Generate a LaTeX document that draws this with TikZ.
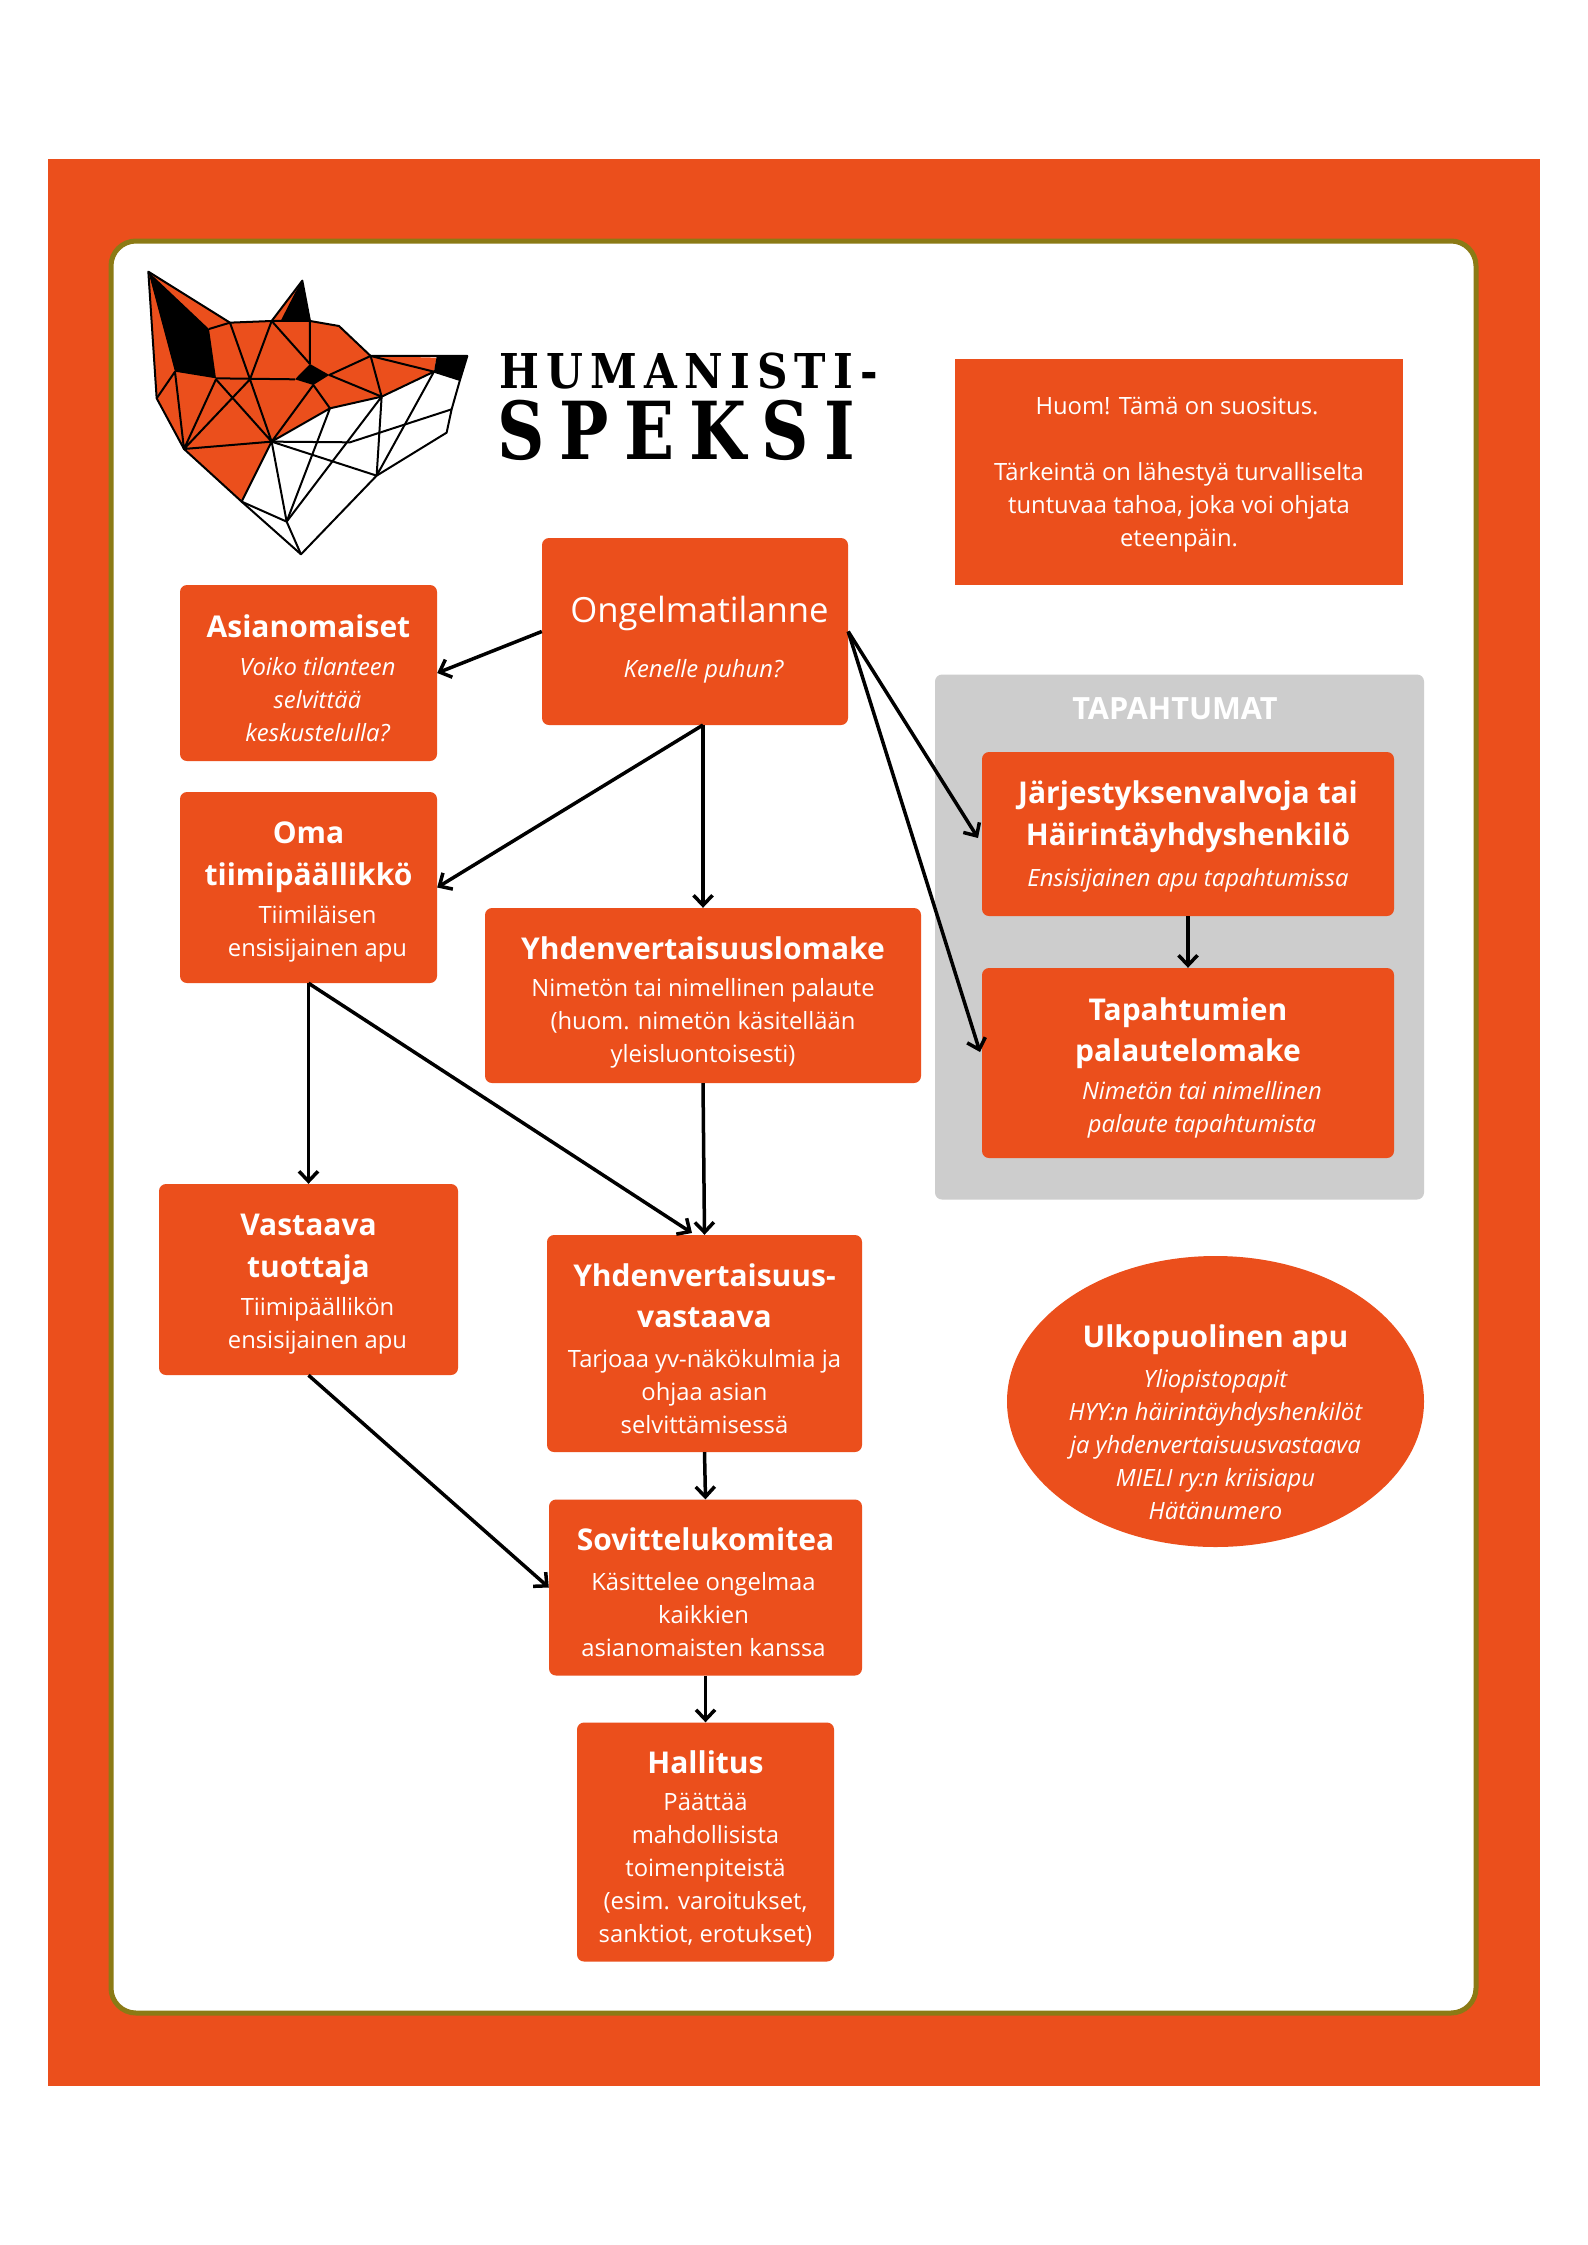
\documentclass[tikz,border=0pt]{standalone}
\usepackage{fontspec}
\setmainfont{Open Sans}
\newfontfamily\logosmall[LetterSpace=15,FakeStretch=0.88]{DejaVu Serif Bold}
\newfontfamily\logobig[LetterSpace=19,FakeStretch=0.82]{DejaVu Serif Bold}
\usepackage{xcolor}
\usepackage{tikz}
\usetikzlibrary{arrows.meta,positioning,shapes.geometric}

\definecolor{speksi}{HTML}{EB4F1C}
\definecolor{rim}{HTML}{8B7A15}
\definecolor{panel}{HTML}{CDCDCD}

\newcommand{\headf}{\fontsize{30}{41.5}\selectfont\bfseries}
\newcommand{\subf}{\fontsize{23.8}{33}\selectfont\mdseries}
\newcommand{\subi}{\subf\itshape}
\newcommand{\off}[1]{\hspace*{#1}}
\newcommand{\down}[1]{\rule{0pt}{#1}}

\begin{document}
\begin{tikzpicture}[x=1pt,y=-1pt,
box/.style={
    rectangle, rounded corners=7pt,
    fill=speksi, text=white,
    align=center,
    inner sep=0pt,
    font=\subf
},
oval/.style={
    ellipse, fill=speksi, text=white,
    align=center,
    inner xsep=-30pt, inner ysep=-40pt,
    font=\subf
},
arr/.style={-{Straight Barb[length=10pt,width=19pt,line width=3.5pt]}, line width=3.5pt},
fox/.style={line width=2pt, line join=round}
]
\useasboundingbox (0,0) rectangle (1587,2245);

% frame
\fill[speksi] (48,159) rectangle (1540,2086);
\draw[rim, fill=white, line width=5pt, rounded corners=25pt] (111,241) rectangle (1476,2013);

% fox, in crop pixels
\begin{scope}[shift={(130,250)},x=0.3333pt,y=-0.3333pt]
\fill[speksi] (162,597) -- (80,445) -- (55,65) -- (300,218) -- (425,213) -- (517,92) -- (540,213)
    -- (627,228) -- (722,318) -- (920,323) -- (912,365) -- (755,440) -- (600,475) -- (425,575) -- (335,755) -- cycle;
\fill (55,65) -- (237,237) -- (258,385) -- (135,365) -- cycle;
\fill (517,92) -- (540,213) -- (452,213) -- (497,125) -- cycle;
\fill (495,388) -- (540,342) -- (598,375) -- (550,405) -- cycle;
\fill (920,320) -- (1012,318) -- (990,390) -- (912,365) -- cycle;
\draw[fox] (55,65) -- (300,218) -- (425,213) -- (540,213) -- (627,228) -- (722,318) -- (1012,318) -- (990,390)
    -- (965,478) -- (950,548) -- (740,677) -- (513,913) -- (335,755) -- (162,597) -- (80,445) -- cycle;
\draw[fox] (425,213) -- (517,92) -- (540,213) -- (540,342);
\draw[fox] (237,237) -- (300,218) -- (360,388) -- (425,213) -- (540,342);
\draw[fox] (258,385) -- (495,388);
\draw[fox] (80,445) -- (135,365) -- (162,597) -- (258,388) -- (425,575) -- (360,388) -- (162,597) -- (425,575) -- (335,755) -- (470,815) -- (513,913);
\draw[fox] (425,575) -- (550,405) -- (600,475) -- (425,575) -- (470,815) -- (600,475) -- (755,440) -- (912,365) -- (990,390);
\draw[fox] (722,318) -- (912,365);
\draw[fox] (722,318) -- (598,375) -- (755,440) -- (722,318);
\draw[fox] (470,815) -- (755,440) -- (740,677) -- (912,365);
\draw[fox] (425,575) -- (660,577) -- (965,478);
\draw[fox] (425,575) -- (740,677);
\end{scope}

% logo text
\node[anchor=base west, inner sep=0pt, font=\logosmall\fontsize{48}{48}\selectfont] (logoa) at (499,388) {HUMANISTI-};
\node[anchor=base west, inner sep=0pt, font=\logobig\fontsize{80}{80}\selectfont] (logob) at (497,459) {SPEKSI};

% panel
\node[box, fill=panel, minimum width=489pt, minimum height=525pt] (tapahtumat) at (1179.5,937) {};
\node[font=\fontsize{30.6}{35}\selectfont\bfseries, text=white, inner sep=0pt] (paneltitle) at (1175,709) {TAPAHTUMAT};

\node[box, rounded corners=0pt, minimum width=448pt, minimum height=226pt] (huom) at (1179,472) {\down{22pt}\off{-4pt}Huom! Tämä on suositus.\\[33pt]Tärkeintä on lähestyä turvalliselta\\tuntuvaa tahoa, joka voi ohjata\\eteenpäin.};
\node[box, minimum width=306pt, minimum height=187pt] (ongel) at (695,631.5) {\down{43pt}\fontsize{34.7}{45}\selectfont\off{9pt}Ongelmatilanne\\[22.6pt]\subi\off{17pt}Kenelle puhun?};
\node[box, minimum width=257pt, minimum height=176pt] (asian) at (308.5,673) {\headf\down{34pt}Asianomaiset\\[5pt]\subi\off{18pt}Voiko tilanteen\\\subi\off{18pt}selvittää\\\subi\off{18pt}keskustelulla?};
\node[box, minimum width=257pt, minimum height=191pt] (oma) at (308.5,887.5) {\headf\down{31pt}Oma\\[8.5pt]\headf tiimipäällikkö\\[5pt]\subf\off{18pt}Tiimiläisen\\\subf\off{18pt}ensisijainen apu};
\node[box, minimum width=436pt, minimum height=175pt] (lomake) at (703,995.5) {\headf\down{37pt}Yhdenvertaisuuslomake\\[4pt]\subf Nimetön tai nimellinen palaute\\\subf (huom. nimetön käsitellään\\\subf yleisluontoisesti)};
\node[box, minimum width=299pt, minimum height=191pt] (vastaava) at (308.5,1279.5) {\headf\down{31pt}Vastaava\\[8.5pt]\headf tuottaja\\[5pt]\subf\off{18pt}Tiimipäällikön\\\subf\off{18pt}ensisijainen apu};
\node[box, minimum width=315pt, minimum height=217pt] (yhdvast) at (704.5,1343.5) {\headf\down{33pt}Yhdenvertaisuus-\\[8.5pt]\headf vastaava\\[7pt]\subf Tarjoaa yv-näkökulmia ja\\\subf ohjaa asian\\\subf selvittämisessä};
\node[box, minimum width=313pt, minimum height=176pt] (sovittelu) at (705.5,1587.5) {\headf\down{32pt}Sovittelukomitea\\[7pt]\subf\off{-4pt}Käsittelee ongelmaa\\\subf\off{-4pt}kaikkien\\\subf\off{-4pt}asianomaisten kanssa};
\node[box, minimum width=257pt, minimum height=239pt] (hallitus) at (705.5,1842) {\headf\down{36pt}Hallitus\\[4.3pt]\subf Päättää\\\subf mahdollisista\\\subf toimenpiteistä\\\subf (esim. varoitukset,\\\subf sanktiot, erotukset)};
\node[box, minimum width=412pt, minimum height=164pt] (jarjestys) at (1188,834) {\headf\down{28pt}Järjestyksenvalvoja tai\\[8.5pt]\headf Häirintäyhdyshenkilö\\[8.3pt]\subi Ensisijainen apu tapahtumissa};
\node[box, minimum width=412pt, minimum height=190pt] (palaute) at (1188,1063) {\headf\down{33pt}Tapahtumien\\[8.5pt]\headf palautelomake\\[5pt]\subi\off{28pt}Nimetön tai nimellinen\\\subi\off{28pt}palaute tapahtumista};
\node[oval, minimum width=417pt, minimum height=291pt] (ulko) at (1215.5,1401.5) {\headf\down{64pt}Ulkopuolinen apu\\[7.5pt]\subi Yliopistopapit\\\subi HYY:n häirintäyhdyshenkilöt\\\subi ja yhdenvertaisuusvastaava\\\subi MIELI ry:n kriisiapu\\\subi Hätänumero};

\coordinate (ongelout) at (703,725);
\coordinate (yhdin) at (692,1233);
\coordinate (jarjin) at (978,838);
\coordinate (palautein) at (980,1052);

\draw[arr] (ongel.west) -- (asian.east);
\draw[arr] (ongelout) -- (oma.east);
\draw[arr] (ongelout) -- (lomake.north);
\draw[arr] (ongel.east) -- (jarjin);
\draw[arr] (ongel.east) -- (palautein);
\draw[arr] (jarjestys.south) -- (palaute.north);
\draw[arr] (oma.south) -- (vastaava.north);
\draw[arr] (oma.south) -- (yhdin);
\draw[arr] (lomake.south) -- (yhdvast.north);
\draw[arr] (yhdvast.south) -- (sovittelu.north);
\draw[arr] (vastaava.south) -- (sovittelu.west);
\draw[arr] (sovittelu.south) -- (hallitus.north);

\end{tikzpicture}
\end{document}
